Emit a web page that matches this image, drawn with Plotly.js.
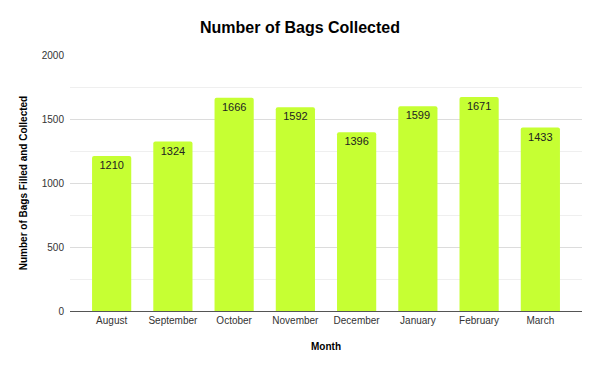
<!DOCTYPE html>
<html>
<head>
<meta charset="utf-8">
<script src="https://cdn.plot.ly/plotly-3.0.1.min.js"></script>
<style>html,body{margin:0;padding:0;background:#fff;}#chart{width:600px;height:370px;}</style>
</head>
<body>
<div id="chart"></div>
<script>
const months = ["August","September","October","November","December","January","February","March"];
const bagsCollected = [1210, 1324, 1666, 1592, 1396, 1599, 1671, 1433];
const yTickValues = [0, 500, 1000, 1500, 2000];

const trace = {
  type: 'bar',
  x: months,
  y: bagsCollected,
  text: bagsCollected.map(String),
  textposition: 'inside',
  insidetextanchor: 'end',
  textangle: 0,
  textfont: {family: 'Liberation Sans, Arial, sans-serif', size: 11, color: '#222'},
  marker: {color: '#c6ff33'},
  hoverinfo: 'skip'
};

const layout = {
  width: 600, height: 370,
  margin: {l: 70, r: 18, t: 55, b: 59},
  paper_bgcolor: '#fff', plot_bgcolor: '#fff',
  bargap: 0.36,
  barcornerradius: 2,
  showlegend: false,
  font: {family: 'Liberation Sans, Arial, sans-serif', color: '#222'},
  title: {text: '<b>Number of Bags Collected</b>', x: 0.5, xanchor: 'center', y: 0.925, yanchor: 'middle',
          font: {size: 16, color: '#000', family: 'Liberation Sans, Arial, sans-serif'}},
  xaxis: {
    range: [-0.68, 7.68],
    showgrid: false,
    showline: true, linecolor: '#555', linewidth: 1,
    ticks: '', tickfont: {size: 10, color: '#333'},
    title: {text: '<b>Month</b>', font: {size: 10, color: '#000'}, standoff: 17}
  },
  yaxis: {
    range: [0, 2000],
    tickvals: yTickValues,
    ticktext: yTickValues.map(String),
    showgrid: true, gridcolor: '#dcdcdc', gridwidth: 1,
    zeroline: false, showline: false,
    ticks: '', ticklabelstandoff: 5,
    tickfont: {size: 10, color: '#333'},
    minor: {dtick: 250, showgrid: true, gridcolor: '#efefef', gridwidth: 1, ticks: ''},
    title: {text: '<b>Number of Bags Filled and Collected</b>', font: {size: 10, color: '#000'}, standoff: 12}
  }
};

Plotly.newPlot('chart', [trace], layout, {displayModeBar: false, staticPlot: true});
</script>
</body>
</html>
